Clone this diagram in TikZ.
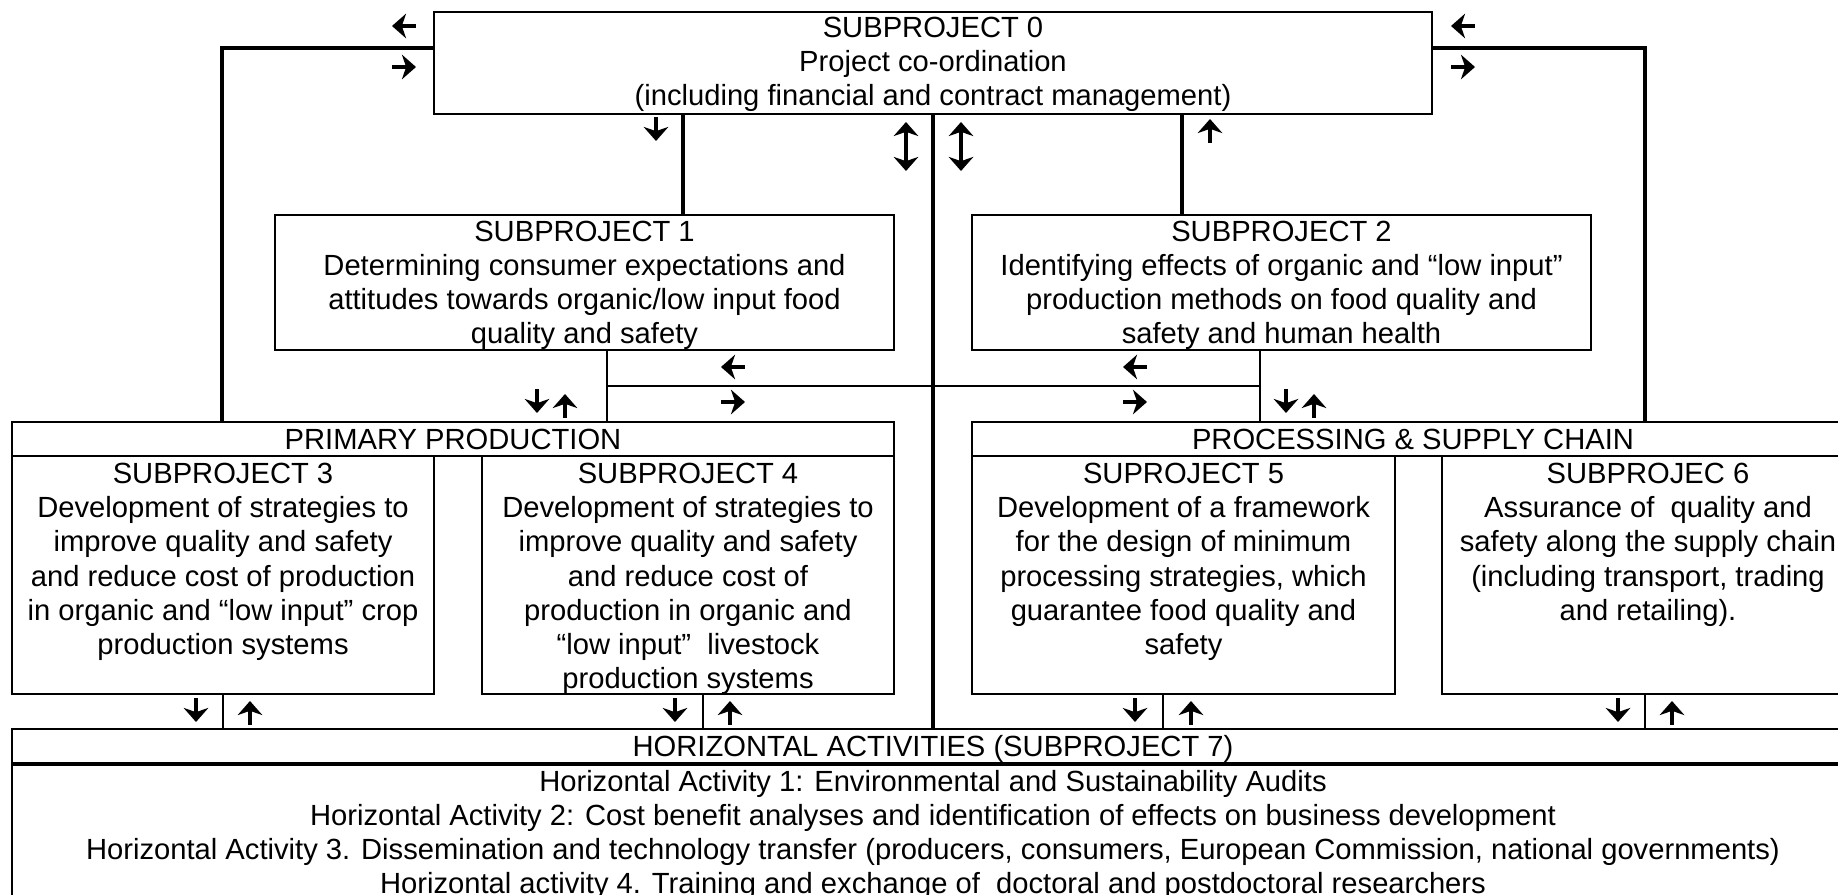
\documentclass[tikz,border=0pt]{standalone}
\usepackage{fontspec}
\setmainfont{Liberation Sans}
\usetikzlibrary{arrows.meta, calc}

\begin{document}
\begin{tikzpicture}[
  every node/.style={font=\fontsize{8.3}{9.7}\selectfont},
  box/.style={draw, line width=0.6pt, align=center, inner sep=0pt},
  head/.style={box, minimum height=0.34cm, text depth=0pt},
  txt/.style={align=center, anchor=north, inner sep=1.8pt},
  link/.style={line width=0.6pt},
  feed/.style={line width=1.3pt},
  arr/.style={line width=1.3pt, -{Stealth[length=4pt, width=7pt, inset=1.2pt]}},
  darr/.style={line width=1.3pt, {Stealth[length=4pt, width=7pt, inset=1.2pt]}-{Stealth[length=4pt, width=7pt, inset=1.2pt]}}]
  \path[use as bounding box] (0,0) rectangle (18.38,-8.95);
  \clip (0,0) rectangle (18.38,-8.95);

  \node[box, minimum width=9.98cm, minimum height=1.02cm] (sp0) at (9.33,-0.63) {};
  \node[box, minimum width=6.19cm, minimum height=1.35cm] (sp1) at (5.845,-2.825) {};
  \node[box, minimum width=6.19cm, minimum height=1.35cm] (sp2) at (12.815,-2.825) {};
  \node[txt, inner sep=1.5pt] (sp0t) at (sp0.north)
    {SUBPROJECT 0\\Project co-ordination\\(including financial and contract management)};
  \node[txt] (sp1t) at (sp1.north)
    {SUBPROJECT 1\\Determining consumer expectations and\\attitudes towards organic/low input food\\quality and safety};
  \node[txt] (sp2t) at (sp2.north)
    {SUBPROJECT 2\\Identifying effects of organic and “low input”\\production methods on food quality and\\safety and human health};

  \node[head, minimum width=8.82cm] (pp) at (4.53,-4.39) {PRIMARY PRODUCTION};
  \node[head, minimum width=8.82cm] (psc) at (14.13,-4.39) {PROCESSING \& SUPPLY CHAIN};

  \node[box, minimum width=4.22cm, minimum height=2.38cm] (sp3) at (2.23,-5.75) {};
  \node[box, minimum width=4.12cm, minimum height=2.38cm] (sp4) at (6.88,-5.75) {};
  \node[box, minimum width=4.23cm, minimum height=2.38cm] (sp5) at (11.835,-5.75) {};
  \node[box, minimum width=4.12cm, minimum height=2.38cm] (sp6) at (16.48,-5.75) {};
  \node[txt, inner sep=2.2pt] (sp3t) at (sp3.north) {SUBPROJECT 3\\Development of strategies to\\improve quality and safety\\and reduce cost of production\\in organic and “low input” crop\\production systems};
  \node[txt, inner sep=2.2pt] (sp4t) at (sp4.north) {SUBPROJECT 4\\Development of strategies to\\improve quality and safety\\and reduce cost of\\production in organic and\\“low input”~ livestock\\production systems};
  \node[txt, inner sep=2.2pt] (sp5t) at (sp5.north) {SUPROJECT 5\\Development of a framework\\for the design of minimum\\processing strategies, which\\guarantee food quality and\\safety};
  \node[txt, inner sep=2.2pt] (sp6t) at (sp6.north) {SUBPROJEC 6\\Assurance of~ quality and\\safety along the supply chain\\(including transport, trading\\and retailing).};

  \node[head, minimum width=18.42cm] (ha) at (9.33,-7.46) {HORIZONTAL ACTIVITIES (SUBPROJECT 7)};
  \node[box, minimum width=18.42cm, minimum height=1.6cm, anchor=north] (hab) at (ha.south) {};
  \node[txt, inner sep=1.5pt] (habt) at (hab.north) {Horizontal Activity 1: Environmental and Sustainability Audits\\Horizontal Activity 2: Cost benefit analyses and identification of effects on business development\\Horizontal Activity 3. Dissemination and technology transfer (producers, consumers, European Commission, national governments)\\Horizontal activity 4. Training and exchange of~ doctoral and postdoctoral researchers};

  \coordinate (fbL) at (2.22,-0.48);
  \coordinate (fbR) at (16.45,-0.48);
  \coordinate (c1) at (6.83,0);
  \coordinate (c2) at (11.82,0);
  \coordinate (m1) at (6.07,-3.86);
  \coordinate (m2) at (12.60,-3.86);
  \coordinate (b3) at (2.23,0);
  \coordinate (b4) at (7.03,0);
  \coordinate (b5) at (11.63,0);
  \coordinate (b6) at (16.45,0);

  \draw[feed] (sp0.west |- fbL) -- (fbL) -- (pp.north -| fbL);
  \draw[feed] (sp0.east |- fbR) -- (fbR) -- (psc.north -| fbR);
  \draw[feed] (sp0.south -| c1) -- (sp1.north -| c1);
  \draw[feed] (sp0.south -| c2) -- (sp2.north -| c2);
  \draw[feed] (sp0.south) -- (ha.north);
  \draw[link] (sp1.south -| m1) -- (pp.north -| m1);
  \draw[link] (sp2.south -| m2) -- (psc.north -| m2);
  \draw[link] (m1) -- (m2);
  \foreach \n/\c in {sp3/b3, sp4/b4, sp5/b5, sp6/b6}
    \draw[link] (\n.south -| \c) -- (ha.north -| \c);

  \foreach \x/\y/\a in {4.04/-0.26/180, 4.04/-0.67/0, 14.63/-0.26/180, 14.63/-0.67/0,
      6.56/-1.29/-90, 12.10/-1.31/90, 7.33/-3.67/180, 7.33/-4.02/0, 11.35/-3.67/180, 11.35/-4.02/0,
      5.37/-4.01/-90, 5.65/-4.06/90, 12.86/-4.01/-90, 13.14/-4.06/90,
      1.96/-7.10/-90, 2.50/-7.13/90, 6.75/-7.10/-90, 7.30/-7.13/90,
      11.35/-7.10/-90, 11.91/-7.13/90, 16.18/-7.10/-90, 16.72/-7.13/90}
    \draw[arr] ($(\x,\y)+(\a:-0.12)$) -- ++(\a:0.24);
  \foreach \x in {9.06, 9.61}
    \draw[darr] (\x,-1.22) -- (\x,-1.71);
\end{tikzpicture}
\end{document}
